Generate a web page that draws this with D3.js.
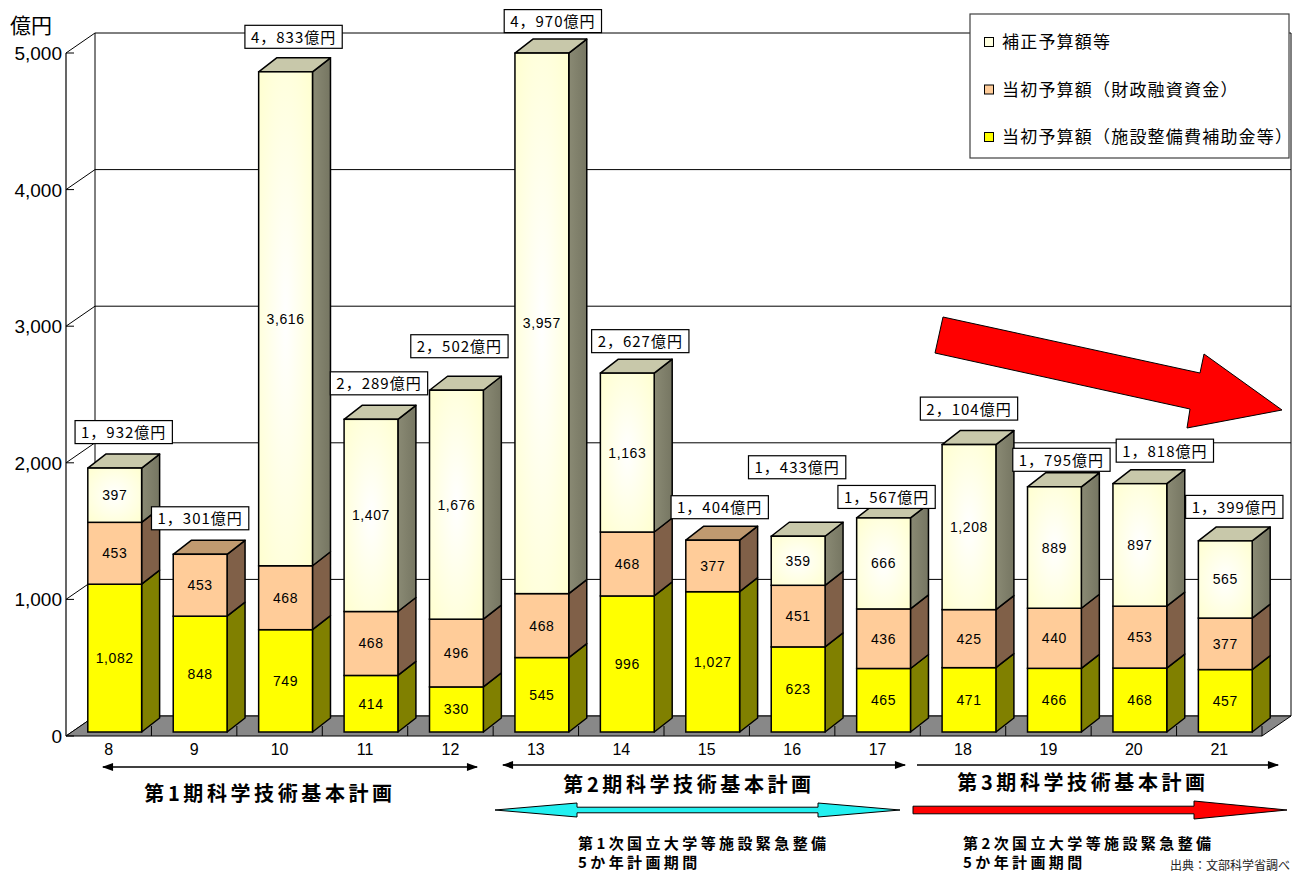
<!DOCTYPE html>
<html>
<head>
<meta charset="utf-8">
<script src="https://cdn.jsdelivr.net/npm/d3@7"></script>
<style>
  html, body { margin: 0; padding: 0; background: #fff; overflow: hidden; }
  svg { display: block; }
</style>
</head>
<body>
<svg id="chart" width="1294" height="872"></svg>
<script>
// 国立大学等施設整備費の推移（平成8〜21年度、単位：億円）
const fiscalYears = ["8", "9", "10", "11", "12", "13", "14", "15", "16", "17", "18", "19", "20", "21"];
const subsidyBudget = [1082, 848, 749, 414, 330, 545, 996, 1027, 623, 465, 471, 466, 468, 457];   // 当初予算額（施設整備費補助金等）
const loanBudget = [453, 453, 468, 468, 496, 468, 468, 377, 451, 436, 425, 440, 453, 377];         // 当初予算額（財政融資資金）
const supplementaryBudget = [397, 0, 3616, 1407, 1676, 3957, 1163, 0, 359, 666, 1208, 889, 897, 565]; // 補正予算額等
const yTicks = [0, 1000, 2000, 3000, 4000, 5000];
const seriesKeys = ["subsidy", "loan", "supplementary"];
const seriesNames = {
  supplementary: "補正予算額等",
  loan: "当初予算額（財政融資資金）",
  subsidy: "当初予算額（施設整備費補助金等）"
};
const legendOrder = ["supplementary", "loan", "subsidy"];
// hand placement tweaks for the total call-outs [dx, dy]
const calloutNudge = [[0, -2], [-9, -2], [-1, -1], [-1, -2], [-6, -10], [2, 2], [4, 2], [-2, 1], [-10, -35], [-6, 13], [-9, -2], [-2, 7], [16, 1], [0, 0]];

const svg = d3.select("#chart");
const defs = svg.append("defs");

const JP = "'Noto Sans CJK JP', 'Noto Sans', sans-serif";
const LAT = "'Liberation Sans', Arial, sans-serif";

// ---- scales -------------------------------------------------------------
const x = d3.scaleBand().domain(fiscalYears).range([66, 1262]).paddingInner(0.37).paddingOuter(0.185);
const y = d3.scaleLinear().domain([0, 5000]).range([736, 53]);
const wall = { dx: 29, dy: -20 };     // depth of floor / back wall
const barShift = { dx: 6, dy: -4 };   // bars sit slightly inside the floor
const barDepth = { dx: 18, dy: -14 };

const rows = fiscalYears.map((yr, i) => ({
  year: yr,
  subsidy: subsidyBudget[i],
  loan: loanBudget[i],
  supplementary: supplementaryBudget[i]
}));
const stacked = d3.stack().keys(seriesKeys)(rows);

// ---- gradients for the cream segments ------------------------------------
const rg = defs.append("radialGradient").attr("id", "creamFace").attr("cx", "50%").attr("cy", "50%").attr("r", "75%");
rg.append("stop").attr("offset", "0%").attr("stop-color", "#ffffff");
rg.append("stop").attr("offset", "100%").attr("stop-color", "#ffffcc");
const sg = defs.append("linearGradient").attr("id", "creamSide").attr("x1", 0).attr("y1", 0).attr("x2", 1).attr("y2", 0);
sg.append("stop").attr("offset", "0%").attr("stop-color", "#8a8a74");
sg.append("stop").attr("offset", "100%").attr("stop-color", "#767662");

const palette = {
  subsidy: { front: "#ffff00", side: "#808000", top: "#c0c000" },
  loan: { front: "#ffcc99", side: "#806048", top: "#c09a70" },
  supplementary: { front: "url(#creamFace)", side: "url(#creamSide)", top: "#c8c8aa" }
};
const legendSwatch = { supplementary: "#ffffe0", loan: "#ffcc99", subsidy: "#ffff00" };

// ---- walls & floor ----------------------------------------------------------
const backLeft = x.range()[0] + wall.dx;
const backRight = x.range()[1] + wall.dx;
const g = svg.append("g");

// back wall outline
g.append("line").attr("x1", backLeft).attr("x2", backLeft)
  .attr("y1", y(5000) + wall.dy).attr("y2", y(0) + wall.dy).attr("stroke", "#000").attr("stroke-width", 1);
g.append("line").attr("x1", backRight).attr("x2", backRight)
  .attr("y1", y(5000) + wall.dy).attr("y2", y(0) + wall.dy).attr("stroke", "#000").attr("stroke-width", 1);

// gridlines on back wall + diagonals on the side wall
yTicks.forEach(v => {
  g.append("line").attr("x1", backLeft).attr("x2", backRight)
    .attr("y1", y(v) + wall.dy).attr("y2", y(v) + wall.dy).attr("stroke", "#000").attr("stroke-width", 1);
  g.append("line").attr("x1", x.range()[0]).attr("x2", backLeft)
    .attr("y1", y(v)).attr("y2", y(v) + wall.dy).attr("stroke", "#000").attr("stroke-width", 1);
});

// floor
const fl = [[x.range()[0], y(0)], [x.range()[1], y(0)], [backRight, y(0) + wall.dy], [backLeft, y(0) + wall.dy]];
g.append("path").attr("d", "M" + fl.map(p => p.join(",")).join("L") + "Z")
  .attr("fill", "#888888").attr("stroke", "#000").attr("stroke-width", 1);
// category dividers on the floor
const step = x.step();
d3.range(1, fiscalYears.length + 1).forEach(i => {
  const bx = x.range()[0] + i * step;
  g.append("line").attr("x1", bx).attr("x2", bx).attr("y1", y(0)).attr("y2", y(0) - 10)
    .attr("stroke", "#000").attr("stroke-width", 1);
});

// value axis
g.append("line").attr("x1", x.range()[0]).attr("x2", x.range()[0])
  .attr("y1", y(5000)).attr("y2", y(0)).attr("stroke", "#000").attr("stroke-width", 1.2);
yTicks.forEach(v => {
  g.append("line").attr("x1", x.range()[0]).attr("x2", x.range()[0] + 8)
    .attr("y1", y(v)).attr("y2", y(v)).attr("stroke", "#000");
  g.append("text").attr("x", 62).attr("y", y(v) + 7).attr("text-anchor", "end")
    .attr("font-family", LAT).attr("font-size", 19).text(d3.format(",")(v));
});
g.append("text").attr("x", 10).attr("y", 33).attr("font-family", JP).attr("font-size", 21).text("億円");

// category labels
fiscalYears.forEach(yr => {
  g.append("text").attr("x", x(yr) + x.bandwidth() / 2)
    .attr("y", 755).attr("text-anchor", "middle").attr("font-family", LAT).attr("font-size", 16).text(yr);
});

// ---- 3D stacked bars -------------------------------------------------------
const bars = svg.append("g");
const poly = pts => "M" + pts.map(p => p.join(",")).join("L") + "Z";

rows.forEach((row, i) => {
  const x0 = x(row.year) + barShift.dx;
  const x1 = x0 + x.bandwidth();
  const topKey = [...seriesKeys].reverse().find(k => row[k] > 0);
  seriesKeys.forEach((k, si) => {
    const [lo, hi] = stacked[si][i];
    if (hi - lo <= 0) return;
    const yb = y(lo) + barShift.dy;
    const yt = y(hi) + barShift.dy;
    const c = palette[k];
    // side face
    bars.append("path").attr("d", poly([[x1, yb], [x1 + barDepth.dx, yb + barDepth.dy], [x1 + barDepth.dx, yt + barDepth.dy], [x1, yt]]))
      .attr("fill", c.side).attr("stroke", "#000").attr("stroke-width", 1.5).attr("stroke-linejoin", "round");
    // top face (only for the highest segment)
    if (k === topKey) {
      bars.append("path").attr("d", poly([[x0, yt], [x1, yt], [x1 + barDepth.dx, yt + barDepth.dy], [x0 + barDepth.dx, yt + barDepth.dy]]))
        .attr("fill", c.top).attr("stroke", "#000").attr("stroke-width", 1.5).attr("stroke-linejoin", "round");
    }
    // front face
    bars.append("rect").attr("x", x0).attr("y", yt).attr("width", x1 - x0).attr("height", yb - yt)
      .attr("fill", c.front).attr("stroke", "#000").attr("stroke-width", 1.5);
    // segment value
    bars.append("text").attr("x", (x0 + x1) / 2).attr("y", (yb + yt) / 2 + 5)
      .attr("text-anchor", "middle").attr("font-family", LAT).attr("font-size", 14)
      .attr("letter-spacing", 0.6).text(d3.format(",")(row[k]));
  });
});

// ---- total call-outs ---------------------------------------------------------
const callouts = svg.append("g");
rows.forEach((row, i) => {
  const total = seriesKeys.reduce((s, k) => s + row[k], 0);
  const cx = x(row.year) + barShift.dx + x.bandwidth() / 2 + barDepth.dx / 2 + calloutNudge[i][0];
  const cy = y(total) + barShift.dy + barDepth.dy - 20 + calloutNudge[i][1];
  const label = d3.format(",")(total).replace(",", "，") + "億円";
  const gg = callouts.append("g");
  const rect = gg.append("rect").attr("fill", "#fff").attr("stroke", "#000").attr("stroke-width", 1.2);
  const t = gg.append("text").attr("x", cx).attr("y", cy + 6).attr("text-anchor", "middle")
    .attr("font-family", JP).attr("font-size", 15).attr("letter-spacing", 1).text(label);
  const w = t.node().getComputedTextLength() + 12;
  rect.attr("x", cx - w / 2).attr("y", cy - 11.5).attr("width", w).attr("height", 23);
});

// ---- legend ----------------------------------------------------------------------
const lg = svg.append("g");
lg.append("rect").attr("x", 970).attr("y", 14).attr("width", 319).attr("height", 144)
  .attr("fill", "#fff").attr("stroke", "#404040").attr("stroke-width", 1.2);
legendOrder.forEach((k, j) => {
  const ly = 42 + j * 47.5;
  lg.append("rect").attr("x", 984.5).attr("y", ly - 4.5).attr("width", 9).attr("height", 9)
    .attr("fill", legendSwatch[k]).attr("stroke", "#000").attr("stroke-width", 1);
  lg.append("text").attr("x", 1002).attr("y", ly + 6).attr("font-family", JP).attr("font-size", 17)
    .attr("letter-spacing", 1.2).text(seriesNames[k]);
});

// ---- downward trend arrow ------------------------------------------------------
const trend = [[943, 317], [1200, 373], [1204, 354], [1282, 410], [1187, 428], [1190, 409], [935, 353]];
svg.append("path").attr("d", poly(trend)).attr("fill", "#ff0000").attr("stroke", "#000").attr("stroke-width", 1);

// ---- plan periods ------------------------------------------------------------------
const ann = svg.append("g");
defs.append("marker").attr("id", "ah").attr("viewBox", "0 0 10 10").attr("refX", 9).attr("refY", 5)
  .attr("markerWidth", 9).attr("markerHeight", 7).attr("orient", "auto-start-reverse")
  .append("path").attr("d", "M0,1.5L10,5L0,8.5Z").attr("fill", "#000");

const planLines = [
  { x1: 103, x2: 477, y: 767, both: true },
  { x1: 503, x2: 905, y: 765, both: true },
  { x1: 917, x2: 1278, y: 765, both: false }
];
planLines.forEach(p => {
  const l = ann.append("line").attr("x1", p.x1).attr("x2", p.x2).attr("y1", p.y).attr("y2", p.y)
    .attr("stroke", "#000").attr("stroke-width", 1.6).attr("marker-end", "url(#ah)");
  if (p.both) l.attr("marker-start", "url(#ah)");
});
const planTitles = [
  { text: "第1期科学技術基本計画", x: 270, y: 801 },
  { text: "第2期科学技術基本計画", x: 689, y: 792 },
  { text: "第3期科学技術基本計画", x: 1083, y: 790 }
];
planTitles.forEach(p => {
  ann.append("text").attr("x", p.x).attr("y", p.y).attr("text-anchor", "middle")
    .attr("font-family", JP).attr("font-weight", "bold").attr("font-size", 20)
    .attr("letter-spacing", 3.6).text(p.text);
});

// block arrows for the emergency facility programmes
function blockArrow(xa, xb, yc, headLen, headHalf, shaftHalf, doubleHead) {
  const pts = [];
  if (doubleHead) {
    pts.push([xa, yc], [xa + headLen, yc - headHalf], [xa + headLen, yc - shaftHalf]);
  } else {
    pts.push([xa, yc - shaftHalf]);
  }
  pts.push([xb - headLen, yc - shaftHalf], [xb - headLen, yc - headHalf], [xb, yc],
           [xb - headLen, yc + headHalf], [xb - headLen, yc + shaftHalf]);
  if (doubleHead) {
    pts.push([xa + headLen, yc + shaftHalf], [xa + headLen, yc + headHalf]);
  } else {
    pts.push([xa, yc + shaftHalf]);
  }
  return poly(pts);
}
ann.append("path").attr("d", blockArrow(495, 900, 810, 82, 7, 2.8, true))
  .attr("fill", "#22f0f0").attr("stroke", "#000").attr("stroke-width", 1);
ann.append("path").attr("d", blockArrow(913, 1287, 810, 93, 9, 3.8, false))
  .attr("fill", "#ff0000").attr("stroke", "#000").attr("stroke-width", 1);

const programmeNotes = [
  { lines: ["第1次国立大学等施設緊急整備", "5か年計画期間"], x: 578 },
  { lines: ["第2次国立大学等施設緊急整備", "5か年計画期間"], x: 963 }
];
programmeNotes.forEach(n => {
  n.lines.forEach((ln, j) => {
    ann.append("text").attr("x", n.x).attr("y", 849 + j * 19)
      .attr("font-family", JP).attr("font-weight", "bold").attr("font-size", 15)
      .attr("letter-spacing", 3.4).text(ln);
  });
});

ann.append("text").attr("x", 1170).attr("y", 870).attr("font-family", JP).attr("font-size", 12)
  .attr("fill", "#222").text("出典：文部科学省調べ");
</script>
</body>
</html>
